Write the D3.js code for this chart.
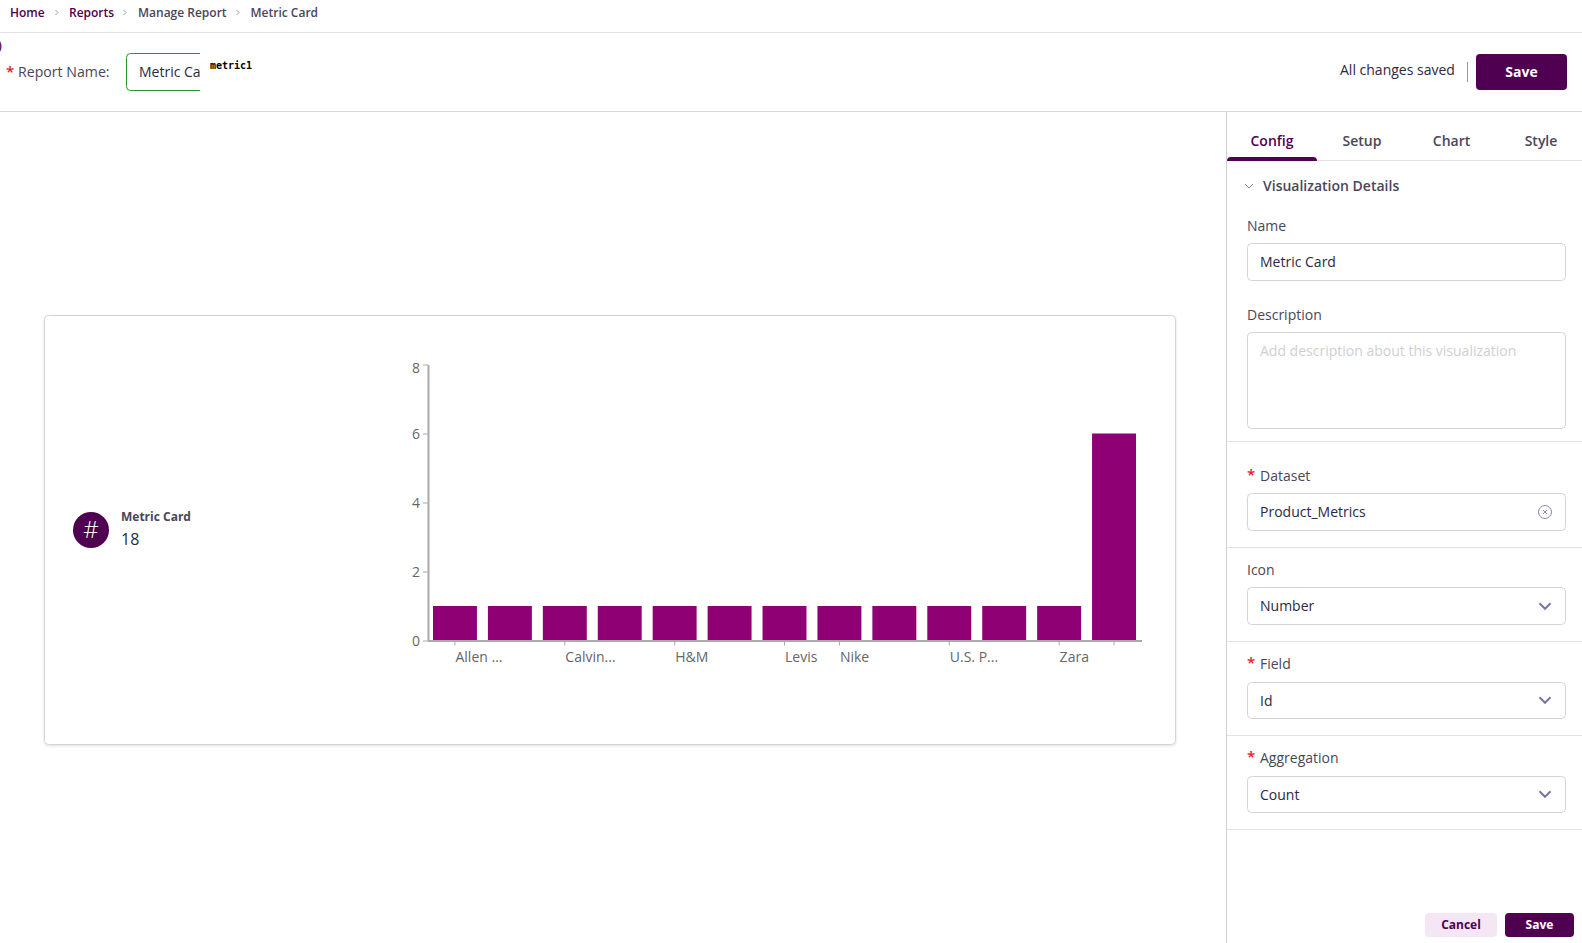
<!DOCTYPE html>
<html>
<head>
<meta charset="utf-8">
<script src="https://cdn.jsdelivr.net/npm/d3@7"></script>
<style>
  body { margin: 0; background: #fff; overflow: hidden; }
  svg { display: block; font-family: "Open Sans", sans-serif; }
  .axis text { font-family: "Open Sans", sans-serif; font-size: 14px; fill: #666; }
  .axis path, .axis line { stroke: #aaa; }
</style>
</head>
<body>
<div id="page"></div>
<script>
// chart values
var categories = ['Allen ...', '', 'Calvin...', '', 'H&M', '', 'Levis', 'Nike', '', 'U.S. P...', '', 'Zara', ''];
var values = [1, 1, 1, 1, 1, 1, 1, 1, 1, 1, 1, 1, 6];
var tickIndexes = [0, 2, 4, 6, 7, 9, 11, 12];
var yTicks = [0, 2, 4, 6, 8];
var metricName = 'Metric Card';
var metricValue = '18';

var crumbs = [['Home', 10, '#4f0050'], ['Reports', 69, '#4f0050'], ['Manage Report', 138, '#4a4658'], ['Metric Card', 250.5, '#4a4658']];
var crumbArrows = [57, 125, 238];
var tabs = [['Config', 1272], ['Setup', 1362], ['Chart', 1451.5], ['Style', 1541]];
var separators = [441, 547, 641, 735, 829];

var dark = '#4f0050', label = '#4a4658', text = '#2c2840', line = '#d4d4d8';

var svg = d3.select('#page').append('svg')
  .attr('width', 1582)
  .attr('height', 943);

var addText = function(str, x, y, size, color, weight, anchor){
  return svg.append('text')
    .attr('x', x)
    .attr('y', y)
    .attr('dy', '0.35em')
    .attr('font-size', size)
    .attr('font-weight', weight || 400)
    .attr('text-anchor', anchor || 'start')
    .attr('fill', color)
    .text(str);
};

var addLine = function(x1, y1, x2, y2, color){
  svg.append('line')
    .attr('x1', x1).attr('y1', y1)
    .attr('x2', x2).attr('y2', y2)
    .attr('stroke', color || '#e2e2e6');
};

var addBox = function(x, y, w, h, r, fill, stroke){
  return svg.append('rect')
    .attr('x', x).attr('y', y)
    .attr('width', w).attr('height', h)
    .attr('rx', r)
    .attr('fill', fill)
    .attr('stroke', stroke || 'none');
};

var addChevron = function(cx, cy, s, color, width){
  svg.append('path')
    .attr('d', d3.line()([[cx - s, cy - s / 2], [cx, cy + s / 2], [cx + s, cy - s / 2]]))
    .attr('fill', 'none')
    .attr('stroke', color)
    .attr('stroke-width', width);
};

// breadcrumb and header
crumbs.forEach(function(c){
  addText(c[0], c[1], 12.5, 12, c[2], 600);
});
crumbArrows.forEach(function(x){
  svg.append('path')
    .attr('d', d3.line()([[x - 1.5, 10], [x + 1, 12.5], [x - 1.5, 15]]))
    .attr('fill', 'none')
    .attr('stroke', '#999');
});
addLine(0, 32.5, 1582, 32.5);
addLine(0, 111.5, 1582, 111.5, '#d8d8d8');

svg.append('clipPath').attr('id', 'nameClip')
  .append('rect').attr('x', 120).attr('y', 48).attr('width', 80).attr('height', 48);
svg.append('clipPath').attr('id', 'edgeClip')
  .append('rect').attr('x', 0).attr('y', 38).attr('width', 3).attr('height', 20);

addText(')', -2, 46, 12, dark, 600).attr('clip-path', 'url(#edgeClip)');
addText('*', 6, 72, 15, '#e0202c', 600);
addText('Report Name:', 18, 72, 14.15, label);
var nameGroup = svg.append('g').attr('clip-path', 'url(#nameClip)');
nameGroup.append('rect')
  .attr('x', 126.5).attr('y', 53.5)
  .attr('width', 120).attr('height', 37)
  .attr('rx', 4)
  .attr('fill', '#fff')
  .attr('stroke', '#2a962a');
nameGroup.append('text')
  .attr('x', 139).attr('y', 72).attr('dy', '0.35em')
  .attr('font-size', 14).attr('fill', text)
  .text('Metric Card');
addText('metric1', 210, 65.5, 10, '#000', 700)
  .attr('font-family', '"DejaVu Sans Mono", monospace');

addText('All changes saved', 1340, 70, 14, text);
addLine(1467.5, 62, 1467.5, 82, '#999');
addBox(1476, 54, 91, 36, 4, dark);
addText('Save', 1521.5, 72, 14, '#fff', 700, 'middle');

// card
svg.append('filter').attr('id', 'cardShadow')
  .append('feDropShadow')
  .attr('dx', 0).attr('dy', 1).attr('stdDeviation', 1.5)
  .attr('flood-color', '#000').attr('flood-opacity', 0.12);
addBox(44.5, 315.5, 1131, 429, 4, '#fff', '#d4d4d4').attr('filter', 'url(#cardShadow)');

svg.append('circle').attr('cx', 91).attr('cy', 530).attr('r', 18).attr('fill', dark);
addText('#', 91, 530, 24, '#fff', 300, 'middle');
addText(metricName, 121, 516.5, 12, label, 700);
addText(metricValue, 121, 539.5, 16, text);

// bar chart
var x = d3.scaleBand()
  .domain(d3.range(categories.length))
  .range([427.5, 1141.5])
  .paddingInner(0.2)
  .paddingOuter(0.1);

var y = d3.scaleLinear()
  .domain([0, 8])
  .range([640.5, 364.5]);

svg.selectAll('rect.bar')
  .data(values)
  .enter()
  .append('rect')
  .attr('class', 'bar')
  .attr('x', function(d, i){ return x(i); })
  .attr('y', function(d){ return y(d); })
  .attr('width', x.bandwidth())
  .attr('height', function(d){ return y(0) - y(d); })
  .attr('fill', '#8e0073');

var yAxis = svg.append('g')
  .attr('class', 'axis')
  .attr('transform', 'translate(428,0)')
  .call(d3.axisLeft(y).tickValues(yTicks).tickSize(5).tickSizeOuter(0).tickPadding(3));
yAxis.select('.domain').attr('stroke-width', 2);
// the top label sits inside the plot, the others stay on their tick
yAxis.selectAll('.tick text')
  .attr('dy', function(d){ return d == 8 ? '0.55em' : '0.34em'; });

var xAxis = svg.append('g')
  .attr('class', 'axis')
  .attr('transform', 'translate(0,640.5)')
  .call(d3.axisBottom(x)
    .tickValues(tickIndexes)
    .tickSize(5)
    .tickSizeOuter(0)
    .tickPadding(7)
    .tickFormat(function(i){ return categories[i]; }));
xAxis.select('.domain').attr('stroke-width', 2);
xAxis.selectAll('text').attr('text-anchor', 'start').attr('dx', 0.5);

// side panel
addLine(1226.5, 111, 1226.5, 943, '#d0d0d4');
addLine(1227, 160.5, 1582, 160.5);
tabs.forEach(function(t, i){
  addText(t[0], t[1], 141, 14, i == 0 ? dark : label, 600, 'middle');
});
svg.append('path')
  .attr('d', 'M1227 161 a4 4 0 0 1 4 -4 H1313 a4 4 0 0 1 4 4 Z')
  .attr('fill', dark);
addChevron(1249, 186, 4, '#888', 1);
addText('Visualization Details', 1263, 186, 14, label, 600);

var addField = function(name, labelY, boxY, boxH, value, required){
  if (required) addText('*', 1247, labelY - 1, 15, '#e0202c', 600);
  addText(name, required ? 1260 : 1247, labelY, 14, label);
  addBox(1247.5, boxY + 0.5, 318, boxH, 4, '#fff', line);
  if (value) addText(value, 1260, boxY + 19, 14, text);
};

addField('Name', 226, 243, 37, 'Metric Card', false);
addField('Description', 315, 332, 96, '', false);
addText('Add description about this visualization', 1260, 351, 14, '#cfcfd2');
separators.forEach(function(s){ addLine(1227, s + 0.5, 1582, s + 0.5); });

addField('Dataset', 476, 493, 37, 'Product_Metrics', true);
svg.append('circle').attr('cx', 1545).attr('cy', 512).attr('r', 6.5)
  .attr('fill', 'none').attr('stroke', '#8d85b5');
svg.append('path').attr('d', 'M1543 510 L1547 514 M1547 510 L1543 514')
  .attr('stroke', '#8d85b5');

addField('Icon', 570, 587, 37, 'Number', false);
addChevron(1545, 606, 5.5, '#7c74a8', 2);
addField('Field', 664, 682, 36, 'Id', true);
addChevron(1545, 700, 5.5, '#7c74a8', 2);
addField('Aggregation', 758, 776, 36, 'Count', true);
addChevron(1545, 794, 5.5, '#7c74a8', 2);

addBox(1425, 913, 72, 24, 4, '#f5e6f5');
addText('Cancel', 1461, 925, 12, dark, 700, 'middle');
addBox(1505, 913, 69, 24, 4, dark);
addText('Save', 1539.5, 925, 12, '#fff', 700, 'middle');
</script>
</body>
</html>
